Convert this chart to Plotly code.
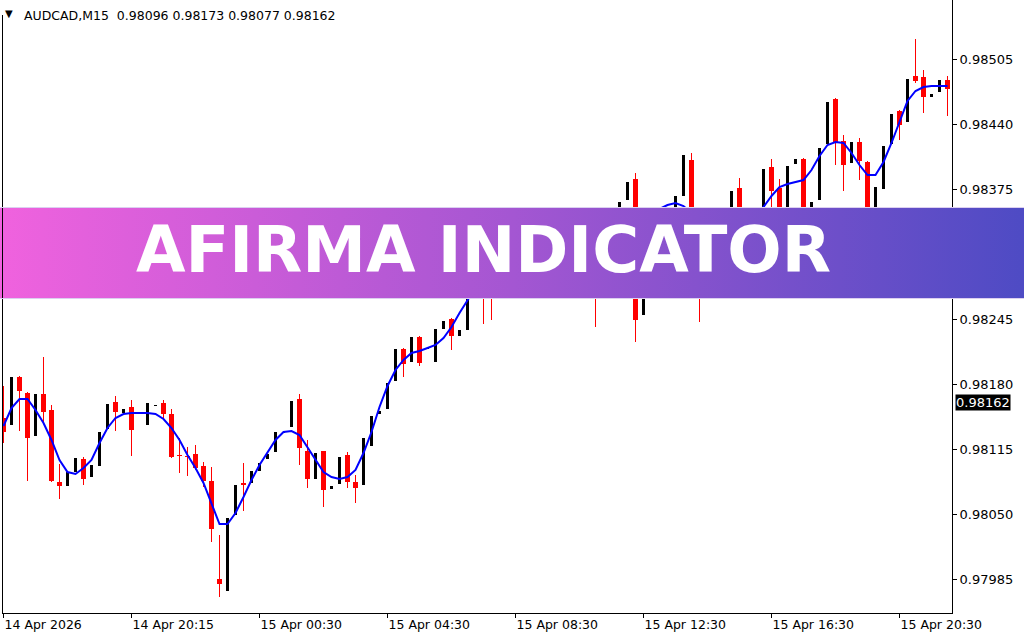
import plotly.graph_objects as go

# ---------------- data ----------------
opens = [0.98146, 0.98139, 0.98187, 0.98171, 0.98128, 0.98170, 0.98154, 0.98082, 0.98078, 0.98092,
         0.98105, 0.98087, 0.98098, 0.98135, 0.98162, 0.98151, 0.98157, 0.98150, 0.98139, 0.98158,
         0.98161, 0.98150, 0.98109, 0.98108, 0.98110, 0.98098, 0.98083, 0.97985, 0.97973, 0.98049,
         0.98081, 0.98081, 0.98093, 0.98105, 0.98112, 0.98131, 0.98137, 0.98165, 0.98113, 0.98085,
         0.98113, 0.98075, 0.98080, 0.98109, 0.98082, 0.98079, 0.98118, 0.98150, 0.98155, 0.98183,
         0.98215, 0.98202, 0.98227, 0.98215, 0.98202, 0.98235, 0.98245, 0.98228, 0.98234, 0.98277,
         0.98302, 0.98280, 0.98274, 0.98304, 0.98318, 0.98310, 0.98323, 0.98312, 0.98324, 0.98333,
         0.98318, 0.98330, 0.98321, 0.98334, 0.98348, 0.98318, 0.98336, 0.98338, 0.98364, 0.98385,
         0.98249, 0.98302, 0.98328, 0.98316, 0.98338, 0.98368, 0.98404, 0.98332, 0.98302, 0.98326,
         0.98312, 0.98334, 0.98376, 0.98320, 0.98334, 0.98334, 0.98397, 0.98376, 0.98324, 0.98400,
         0.98405, 0.98338, 0.98364, 0.98420, 0.98465, 0.98423, 0.98401, 0.98422, 0.98402, 0.98324,
         0.98375, 0.98420, 0.98453, 0.98442, 0.98488, 0.98487, 0.98467, 0.98472, 0.98484]
highs = [0.98178, 0.98187, 0.98188, 0.98172, 0.98170, 0.98207, 0.98159, 0.98100, 0.98092, 0.98106,
         0.98107, 0.98099, 0.98132, 0.98160, 0.98168, 0.98155, 0.98164, 0.98152, 0.98161, 0.98159,
         0.98164, 0.98155, 0.98126, 0.98117, 0.98119, 0.98102, 0.98097, 0.98029, 0.98046, 0.98079,
         0.98101, 0.98093, 0.98101, 0.98110, 0.98132, 0.98132, 0.98163, 0.98170, 0.98124, 0.98111,
         0.98113, 0.98078, 0.98107, 0.98112, 0.98089, 0.98126, 0.98148, 0.98153, 0.98181, 0.98215,
         0.98216, 0.98227, 0.98228, 0.98216, 0.98235, 0.98243, 0.98246, 0.98234, 0.98279, 0.98298,
         0.98306, 0.98292, 0.98306, 0.98318, 0.98321, 0.98323, 0.98328, 0.98326, 0.98333, 0.98338,
         0.98330, 0.98334, 0.98336, 0.98348, 0.98352, 0.98338, 0.98352, 0.98362, 0.98382, 0.98391,
         0.98302, 0.98328, 0.98334, 0.98355, 0.98368, 0.98409, 0.98411, 0.98340, 0.98326, 0.98332,
         0.98336, 0.98373, 0.98386, 0.98338, 0.98350, 0.98395, 0.98405, 0.98385, 0.98398, 0.98405,
         0.98406, 0.98362, 0.98416, 0.98462, 0.98466, 0.98429, 0.98422, 0.98426, 0.98403, 0.98377,
         0.98418, 0.98450, 0.98454, 0.98485, 0.98525, 0.98494, 0.98470, 0.98484, 0.98488]
lows = [0.98121, 0.98139, 0.98133, 0.98083, 0.98128, 0.98141, 0.98082, 0.98065, 0.98078, 0.98092,
        0.98079, 0.98087, 0.98098, 0.98135, 0.98133, 0.98151, 0.98108, 0.98150, 0.98139, 0.98158,
        0.98146, 0.98106, 0.98091, 0.98088, 0.98094, 0.98077, 0.98022, 0.97967, 0.97973, 0.98049,
        0.98053, 0.98081, 0.98093, 0.98105, 0.98112, 0.98131, 0.98137, 0.98099, 0.98076, 0.98085,
        0.98057, 0.98075, 0.98080, 0.98076, 0.98061, 0.98079, 0.98118, 0.98150, 0.98155, 0.98183,
        0.98187, 0.98202, 0.98198, 0.98215, 0.98202, 0.98235, 0.98214, 0.98228, 0.98234, 0.98277,
        0.98240, 0.98244, 0.98274, 0.98304, 0.98302, 0.98310, 0.98306, 0.98312, 0.98324, 0.98312,
        0.98318, 0.98314, 0.98321, 0.98334, 0.98237, 0.98318, 0.98336, 0.98338, 0.98364, 0.98222,
        0.98249, 0.98302, 0.98308, 0.98316, 0.98338, 0.98368, 0.98318, 0.98242, 0.98302, 0.98306,
        0.98312, 0.98334, 0.98318, 0.98320, 0.98334, 0.98334, 0.98349, 0.98326, 0.98324, 0.98400,
        0.98332, 0.98338, 0.98364, 0.98420, 0.98399, 0.98373, 0.98401, 0.98384, 0.98314, 0.98324,
        0.98375, 0.98420, 0.98424, 0.98442, 0.98481, 0.98451, 0.98467, 0.98472, 0.98448]
closes = [0.98132, 0.98187, 0.98173, 0.98126, 0.98170, 0.98152, 0.98083, 0.98078, 0.98092, 0.98106,
          0.98085, 0.98099, 0.98132, 0.98160, 0.98152, 0.98155, 0.98134, 0.98152, 0.98161, 0.98159,
          0.98150, 0.98107, 0.98108, 0.98107, 0.98096, 0.98083, 0.98035, 0.97980, 0.98046, 0.98079,
          0.98079, 0.98093, 0.98101, 0.98110, 0.98132, 0.98132, 0.98163, 0.98116, 0.98085, 0.98111,
          0.98074, 0.98078, 0.98107, 0.98082, 0.98076, 0.98126, 0.98148, 0.98153, 0.98181, 0.98215,
          0.98200, 0.98227, 0.98201, 0.98216, 0.98235, 0.98243, 0.98228, 0.98234, 0.98279, 0.98298,
          0.98279, 0.98274, 0.98306, 0.98318, 0.98310, 0.98323, 0.98312, 0.98326, 0.98333, 0.98318,
          0.98330, 0.98321, 0.98336, 0.98348, 0.98318, 0.98338, 0.98352, 0.98362, 0.98382, 0.98244,
          0.98302, 0.98328, 0.98316, 0.98355, 0.98368, 0.98409, 0.98326, 0.98302, 0.98326, 0.98312,
          0.98336, 0.98373, 0.98324, 0.98338, 0.98350, 0.98395, 0.98373, 0.98332, 0.98398, 0.98405,
          0.98338, 0.98362, 0.98416, 0.98462, 0.98422, 0.98399, 0.98422, 0.98403, 0.98324, 0.98377,
          0.98418, 0.98450, 0.98439, 0.98485, 0.98483, 0.98467, 0.98470, 0.98484, 0.98475]
afirma = [0.98138, 0.98156, 0.98165, 0.98165, 0.98154, 0.98141, 0.98124, 0.98104, 0.98092, 0.98090,
          0.98096, 0.98104, 0.98121, 0.98136, 0.98146, 0.98150, 0.98151, 0.98151, 0.98151, 0.98150,
          0.98145, 0.98136, 0.98124, 0.98109, 0.98096, 0.98081, 0.98061, 0.98040, 0.98040, 0.98051,
          0.98067, 0.98084, 0.98099, 0.98112, 0.98124, 0.98132, 0.98133, 0.98129, 0.98117, 0.98104,
          0.98092, 0.98087, 0.98085, 0.98087, 0.98094, 0.98111, 0.98132, 0.98157, 0.98178, 0.98194,
          0.98204, 0.98211, 0.98213, 0.98216, 0.98219, 0.98226, 0.98237, 0.98251, 0.98264, 0.98277,
          0.98289, 0.98298, 0.98305, 0.98310, 0.98314, 0.98317, 0.98320, 0.98323, 0.98326, 0.98328,
          0.98330, 0.98332, 0.98335, 0.98338, 0.98340, 0.98342, 0.98345, 0.98348, 0.98350, 0.98352,
          0.98353, 0.98354, 0.98355, 0.98359, 0.98361, 0.98358, 0.98351, 0.98344, 0.98339, 0.98336,
          0.98336, 0.98339, 0.98343, 0.98348, 0.98352, 0.98357, 0.98368, 0.98377, 0.98380, 0.98382,
          0.98384, 0.98394, 0.98408, 0.98419, 0.98422, 0.98421, 0.98411, 0.98399, 0.98389, 0.98389,
          0.98402, 0.98421, 0.98443, 0.98463, 0.98473, 0.98477, 0.98478, 0.98478, 0.98478]

tick_bars = [0, 16, 32, 48, 64, 80, 96, 112]
tick_labels = ["14 Apr 2026", "14 Apr 20:15", "15 Apr 00:30", "15 Apr 04:30",
               "15 Apr 08:30", "15 Apr 12:30", "15 Apr 16:30", "15 Apr 20:30"]
price_ticks = [0.97985, 0.98050, 0.98115, 0.98180, 0.98245, 0.98310, 0.98375, 0.98440, 0.98505]
header_symbol = "AUDCAD,M15"
header_ohlc = [0.98096, 0.98173, 0.98077, 0.98162]
last_price = 0.98162
banner_title = "AFIRMA INDICATOR"

# ---------------- layout constants ----------------
W, H = 1024, 640
PX_LEFT, PX_RIGHT, PX_BOTTOM = 2, 952, 613
BAR_PX = 8.0
first_center_px = 3.5
x_lo = -(first_center_px - PX_LEFT) / BAR_PX
x_hi = x_lo + (PX_RIGHT - PX_LEFT) / BAR_PX
Y_TOP = 0.98564
Y_BOT = Y_TOP - PX_BOTTOM * 1e-5

FONT = "DejaVu Sans"
RED, BLACK, BLUE = "#FF0000", "#000000", "#0000FF"

idx = list(range(len(opens)))
bear = [c < o for o, c in zip(opens, closes)]

fig = go.Figure()

# wicks
for is_bear, col in ((True, RED), (False, BLACK)):
    wx, wy = [], []
    for i in idx:
        if bear[i] == is_bear:
            wx += [i, i, None]
            wy += [lows[i], highs[i], None]
    fig.add_trace(go.Scatter(x=wx, y=wy, mode="lines", line=dict(color=col, width=1),
                             hoverinfo="skip", showlegend=False))

# bodies
for is_bear, col, wdt in ((True, RED, 5 / BAR_PX), (False, BLACK, 3 / BAR_PX)):
    bx = [i for i in idx if bear[i] == is_bear]
    base = [min(opens[i], closes[i]) for i in bx]
    hgt = [max(abs(closes[i] - opens[i]), 1e-5) for i in bx]
    fig.add_trace(go.Bar(x=bx, y=hgt, base=base, width=wdt, marker=dict(color=col, line=dict(width=0)),
                         showlegend=False, hoverinfo="skip"))

# AFIRMA line
fig.add_trace(go.Scatter(x=idx, y=afirma, mode="lines", line=dict(color=BLUE, width=2),
                         showlegend=False, hoverinfo="skip"))

# banner (on an overlay subplot covering the whole figure)
b_top = 1 - 208 / H
b_bot = 1 - 298 / H
fig.add_trace(go.Scatter(x=[0, 1, 1, 0], y=[b_bot, b_bot, b_top, b_top], fill="toself", mode="lines",
                         line=dict(width=0), fillcolor="#9F56D1",
                         fillgradient=dict(type="horizontal",
                                           colorscale=[[0, "#F062DE"], [0.5, "#A456D2"], [1, "#4E4BC4"]]),
                         xaxis="x2", yaxis="y2", hoverinfo="skip", showlegend=False))

fig.update_layout(
    width=W, height=H, autosize=False,
    margin=dict(l=0, r=0, t=0, b=0, pad=0, autoexpand=False),
    paper_bgcolor="white", plot_bgcolor="rgba(0,0,0,0)",
    barmode="overlay", bargap=0,
    showlegend=False,
    xaxis=dict(domain=[PX_LEFT / W, PX_RIGHT / W], range=[x_lo, x_hi], anchor="y",
               tickvals=tick_bars, ticktext=tick_labels, ticks="outside", ticklen=4, tickwidth=1,
               tickcolor=BLACK, ticklabelposition="outside right", automargin=False,
               showline=True, linecolor=BLACK, linewidth=1, showgrid=False, zeroline=False,
               tickfont=dict(family=FONT, size=12.5, color=BLACK), fixedrange=True),
    yaxis=dict(domain=[(H - PX_BOTTOM) / H, 1], range=[Y_BOT, Y_TOP], anchor="x", side="right",
               tickvals=price_ticks, tickformat=".5f", ticks="outside", ticklen=4, tickwidth=1,
               tickcolor=BLACK, showline=True, linecolor=BLACK, linewidth=1, showgrid=False,
               zeroline=False, automargin=False,
               tickfont=dict(family=FONT, size=13, color=BLACK), fixedrange=True),
    xaxis2=dict(domain=[0, 1], range=[0, 1], anchor="y2", visible=False, fixedrange=True),
    yaxis2=dict(domain=[0, 1], range=[0, 1], anchor="x2", visible=False, fixedrange=True),
)

# left frame line (starts below the header)
fig.add_shape(type="line", xref="paper", yref="paper", x0=2.5 / W, x1=2.5 / W,
              y0=1 - PX_BOTTOM / H, y1=1 - 15 / H, line=dict(color=BLACK, width=1))
# light edges of the banner
for py in (207.5, 298.5):
    fig.add_shape(type="line", xref="paper", yref="paper", x0=0, x1=1, y0=1 - py / H, y1=1 - py / H,
                  line=dict(color="#DCD0F0", width=1), layer="above")

# header
fig.add_annotation(text="\u25BC", xref="paper", yref="paper", x=9 / W, y=1 - 13.5 / H,
                   xanchor="center", yanchor="middle", showarrow=False,
                   font=dict(family=FONT, size=10, color=BLACK))
header_text = header_symbol + "\u00a0\u00a0" + " ".join(f"{v:.5f}" for v in header_ohlc)
fig.add_annotation(text=header_text, xref="paper", yref="paper", x=22 / W, y=1 - 15 / H,
                   xanchor="left", yanchor="middle", showarrow=False,
                   font=dict(family=FONT, size=12.5, color=BLACK))

# current price label
fig.add_annotation(text=f"{last_price:.5f}", xref="paper", yref="y", x=955 / W, y=last_price,
                   xanchor="left", yanchor="middle", showarrow=False, bgcolor=BLACK, borderpad=0,
                   font=dict(family=FONT, size=13, color="white"))

# banner title
fig.add_annotation(text=banner_title, xref="paper", yref="paper", x=483.5 / W, y=1 - 250 / H,
                   xanchor="center", yanchor="middle", showarrow=False,
                   font=dict(family=FONT, size=64, color="white", weight="bold"))

fig.write_html("out.html", config={"displayModeBar": False},
               post_script="document.body.style.margin='0';document.body.style.overflow='hidden';")
